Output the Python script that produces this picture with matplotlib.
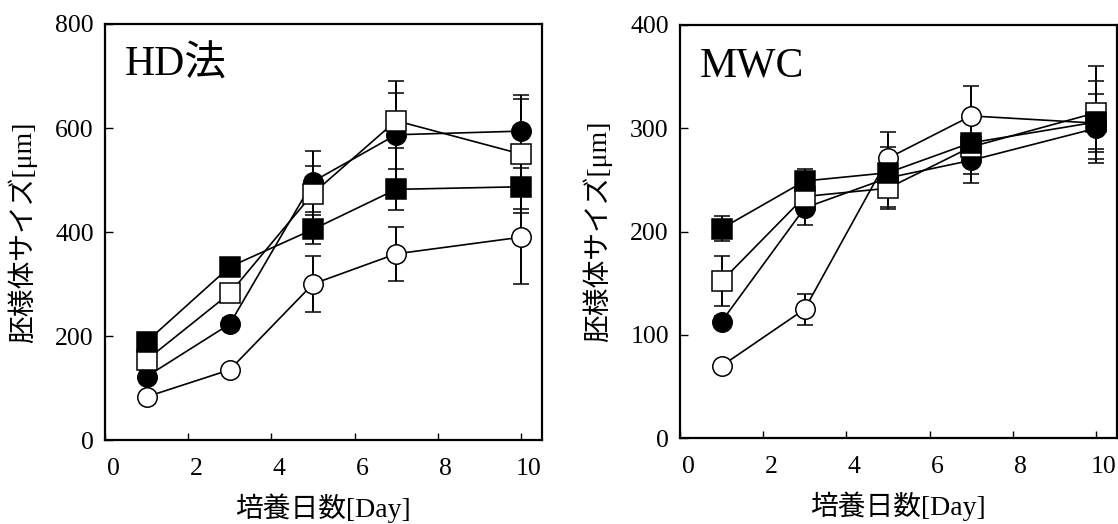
import matplotlib
matplotlib.use('Agg')
import matplotlib.pyplot as plt
import matplotlib.transforms as mtransforms

plt.rcParams['font.family'] = ['Liberation Serif', 'Noto Sans CJK JP']
plt.rcParams['axes.unicode_minus'] = False

days = [1, 3, 5, 7, 10]

# HD法
hd_open_circle = [83, 135, 300, 358, 390]
hd_open_circle_err = [8, 10, 53, 52, 90]
hd_black_circle = [122, 223, 497, 587, 594]
hd_black_circle_err = [10, 12, 59, 104, 70]
hd_open_square = [154, 282, 474, 614, 550]
hd_open_square_err = [10, 15, 53, 53, 106]
hd_black_square = [189, 333, 405, 482, 487]
hd_black_square_err = [10, 15, 28, 40, 50]

# MWC
mwc_open_circle = [70, 125, 271, 312, 305]
mwc_open_circle_err = [5, 15, 25, 29, 28]
mwc_black_circle = [113, 223, 252, 269, 300]
mwc_black_circle_err = [5, 17, 30, 22, 20]
mwc_open_square = [152, 234, 242, 282, 315]
mwc_open_square_err = [24, 10, 18, 10, 45]
mwc_black_square = [203, 249, 257, 286, 306]
mwc_black_square_err = [12, 12, 10, 30, 40]

xticks = [0, 2, 4, 6, 8, 10]
hd_yticks = [0, 200, 400, 600, 800]
mwc_yticks = [0, 100, 200, 300, 400]

xlabel = '培養日数[Day]'
ylabel = '胚様体サイズ[μm]'


def draw_series(ax, y, err, marker, face):
    ax.errorbar(days, y, yerr=err, fmt='-', color='black', lw=1.2,
                marker=marker, ms=14, mfc=face, mec='black', mew=1.1,
                ecolor='black', elinewidth=1.4, capsize=5.5, capthick=1.4)


def setup_axes(ax, yticks, title):
    ax.set_xlim(0, 10.5)
    ax.set_ylim(yticks[0], yticks[-1])
    ax.set_xticks(xticks)
    ax.set_yticks(yticks)
    for side in ['top', 'right', 'bottom', 'left']:
        ax.spines[side].set_linewidth(1.6)
    ax.tick_params(direction='in', labelsize=18.5, width=1.0)
    ax.tick_params(axis='x', length=5, pad=13)
    ax.tick_params(axis='y', length=6, pad=8)
    # day labels sit a little to the right of their ticks
    offset = mtransforms.ScaledTranslation(8 / 100, 0, ax.figure.dpi_scale_trans)
    for lab in ax.get_xticklabels():
        lab.set_transform(lab.get_transform() + offset)
    ax.set_xlabel(xlabel, fontsize=20)
    ax.set_ylabel(ylabel, fontsize=20)
    ax.xaxis.set_label_coords(0.5, -0.128)
    ax.yaxis.set_label_coords(-0.155, 0.5)
    ax.text(0.045, 0.9, title, transform=ax.transAxes, fontsize=30, va='center', ha='left')


fig = plt.figure(figsize=(11.18, 5.24), dpi=100)
ax1 = fig.add_axes([0.0939, 0.1603, 0.3906, 0.7939])
ax2 = fig.add_axes([0.6082, 0.1636, 0.3906, 0.7887])

draw_series(ax1, hd_open_circle, hd_open_circle_err, 'o', 'white')
draw_series(ax1, hd_black_circle, hd_black_circle_err, 'o', 'black')
draw_series(ax1, hd_open_square, hd_open_square_err, 's', 'white')
draw_series(ax1, hd_black_square, hd_black_square_err, 's', 'black')
setup_axes(ax1, hd_yticks, 'HD法')

draw_series(ax2, mwc_open_circle, mwc_open_circle_err, 'o', 'white')
draw_series(ax2, mwc_black_circle, mwc_black_circle_err, 'o', 'black')
draw_series(ax2, mwc_open_square, mwc_open_square_err, 's', 'white')
draw_series(ax2, mwc_black_square, mwc_black_square_err, 's', 'black')
setup_axes(ax2, mwc_yticks, 'MWC')

fig.savefig('out.png', dpi=100)
